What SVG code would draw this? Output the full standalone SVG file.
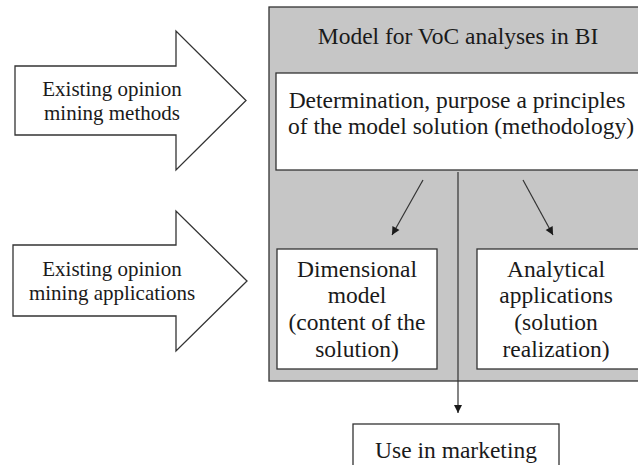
<svg xmlns="http://www.w3.org/2000/svg" width="638" height="465" viewBox="0 0 638 465">
<defs>
<style>
text{font-family:"Liberation Serif","Times New Roman",serif;fill:#1a1a1a;text-anchor:middle}
.big{font-size:23.5px}
.sm{font-size:21px}
.box{fill:#fff;stroke:#333;stroke-width:1.3}
.con{stroke:#333;stroke-width:1.2;fill:none}
</style>
<marker id="ah" markerWidth="10" markerHeight="10" refX="9" refY="5" orient="auto" markerUnits="userSpaceOnUse">
<path d="M1,1 L9,5 L1,9 Z" fill="#1a1a1a"/>
</marker>
</defs>
<rect width="638" height="465" fill="#fff"/>
<g id="arrow-methods">
<polygon points="15,66 176,66 176,31 246,100.5 176,170 176,135 15,135" fill="#fff" stroke="#333" stroke-width="1.3"/>
<text class="sm" x="112" y="96">Existing opinion</text>
<text class="sm" x="112" y="120">mining methods</text>
</g>
<g id="arrow-applications">
<polygon points="13,245 176,245 176,211 247,281 176,351 176,316 13,316" fill="#fff" stroke="#333" stroke-width="1.3"/>
<text class="sm" x="112" y="276">Existing opinion</text>
<text class="sm" x="112" y="300">mining applications</text>
</g>
<g id="model">
<rect x="269" y="7" width="380" height="374" fill="#c6c6c6" stroke="#333" stroke-width="1.3"/>
<text class="big" x="458" y="44">Model for VoC analyses in BI</text>
</g>
<g id="methodology">
<rect class="box" x="276" y="73" width="370" height="97"/>
<text class="big" x="457" y="108">Determination, purpose a principles</text>
<text class="big" x="461" y="134">of the model solution (methodology)</text>
</g>
<g id="dimensional">
<rect class="box" x="277" y="249" width="160" height="120"/>
<text class="big" x="357" y="277">Dimensional</text>
<text class="big" x="357" y="303">model</text>
<text class="big" x="357" y="330">(content of the</text>
<text class="big" x="357" y="357">solution)</text>
</g>
<g id="analytical">
<rect class="box" x="477" y="249" width="170" height="120"/>
<text class="big" x="556" y="277">Analytical</text>
<text class="big" x="556" y="303">applications</text>
<text class="big" x="556" y="330">(solution</text>
<text class="big" x="556" y="357">realization)</text>
</g>
<g id="marketing">
<rect class="box" x="353" y="424" width="206" height="60"/>
<text class="big" x="456" y="458">Use in marketing</text>
</g>
<g id="connectors">
<line class="con" x1="423" y1="180" x2="392" y2="235" marker-end="url(#ah)"/>
<line class="con" x1="523" y1="180" x2="553" y2="235" marker-end="url(#ah)"/>
<line class="con" x1="458" y1="172" x2="458" y2="413" marker-end="url(#ah)"/>
</g>
</svg>
